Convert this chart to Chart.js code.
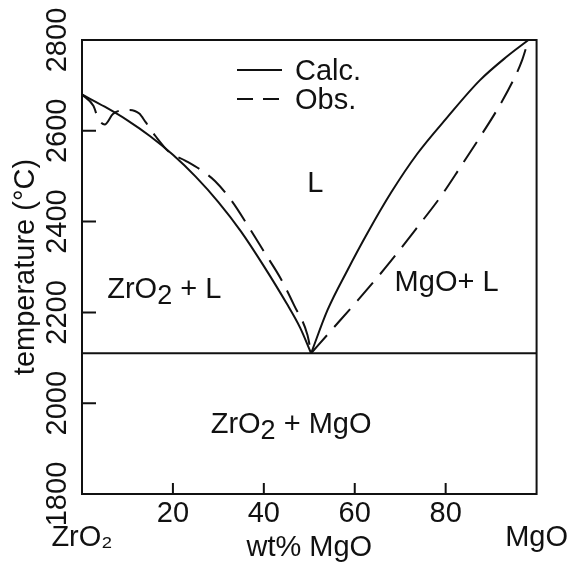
<!DOCTYPE html>
<html><head><meta charset="utf-8">
<style>html,body{margin:0;padding:0;background:#fff;} #c{display:block;}</style>
<script src="https://cdn.jsdelivr.net/npm/chart.js@4.4.1/dist/chart.umd.min.js"></script>
</head><body>
<canvas id="c" width="576" height="569"></canvas>
<script>
// ---------- data ----------
const calcLeftX  = [0, 5, 10, 15, 20, 25, 30, 35, 40, 45, 48, 50.4];
const calcLeftT  = [2680, 2653, 2623, 2588, 2547, 2499, 2443, 2378, 2302, 2220, 2166, 2110];
const calcRightX = [50.4, 54, 58.4, 62.8, 68, 73.8, 80.3, 87.5, 93.4, 98.2];
const calcRightT = [2110, 2205, 2293, 2375, 2464, 2550, 2629, 2711, 2763, 2800];
const obsLeftX   = [0, 2.5, 3.6, 5.0, 6.8, 8.6, 10.4, 12.6, 14, 16.2, 19.1, 22.8, 26.4, 29.3, 32.9, 36.5, 40.1, 43.8, 46.7, 49.6, 50.4];
const obsLeftT   = [2680, 2655, 2626, 2614, 2637, 2645, 2646, 2638, 2619, 2588, 2554, 2534, 2512, 2489, 2446, 2391, 2333, 2273, 2215, 2150, 2110];
const obsRightX  = [50.4, 54.8, 60.6, 66.8, 73.8, 78.9, 83.3, 87.6, 91.3, 94.9, 96.8, 98.2];
const obsRightT  = [2110, 2160, 2226, 2299, 2388, 2455, 2521, 2587, 2646, 2712, 2755, 2800];
const eutecticT  = 2110;
const xRange = [0, 100];
const yRange = [1800, 2800];
const xTicks = [0, 20, 40, 60, 80, 100];
const xTickLabels = [['', 'ZrO₂'], '20', '40', '60', '80', ['', 'MgO']];
const yTicks = [1800, 2000, 2200, 2400, 2600, 2800];
const yTickLabels = ['1800', '2000', '2200', '2400', '2600', '2800'];
const seriesNames = ['Calc.', 'Obs.'];
const xTitle = 'wt% MgO';
const yTitle = 'temperature (°C)';
const regionLabels = [
  {text: 'L', x: 51.3, y: 2489},
  {text: 'ZrO₂ + L', x: 18.1, y: 2254},
  {text: 'MgO+ L', x: 80.2, y: 2269},
  {text: 'ZrO₂ + MgO', x: 46.0, y: 1958}
];

// ---------- styles ----------
const FAMILY = '"Liberation Sans", Arial, sans-serif';
const FS = 29;
const BLACK = '#111';
const OBS_DASH = [24, 11];

const pts = (xs, ys) => xs.map((x, i) => ({x, y: ys[i]}));

// measure widest y label to center rotated labels at x≈58
const mc = document.createElement('canvas').getContext('2d');
mc.font = `normal ${FS}px ${FAMILY}`;
const widest = Math.max(...yTickLabels.map(t => mc.measureText(t).width));
const yPad = 82 - 58 - widest / 2;

function drawRich(ctx, text, cx, cy, size) {
  const segs = [];
  for (const ch of text) {
    const sub = ch === '₂';
    const c = sub ? '2' : ch;
    if (segs.length && segs[segs.length - 1].sub === sub) segs[segs.length - 1].t += c;
    else segs.push({t: c, sub});
  }
  const fN = `${size}px ${FAMILY}`, fS = `${Math.round(size * 0.92)}px ${FAMILY}`;
  let total = 0;
  segs.forEach(s => { ctx.font = s.sub ? fS : fN; s.w = ctx.measureText(s.t).width; total += s.w; });
  let x = cx - total / 2;
  const base = cy + size * 0.716 / 2;
  ctx.textAlign = 'left'; ctx.textBaseline = 'alphabetic';
  segs.forEach(s => { ctx.font = s.sub ? fS : fN; ctx.fillText(s.t, x, base + (s.sub ? 6 : 0)); x += s.w; });
}

const decor = {
  id: 'decor',
  beforeDraw(chart) {
    const {ctx} = chart;
    ctx.save(); ctx.fillStyle = '#fff'; ctx.fillRect(0, 0, chart.width, chart.height); ctx.restore();
  },
  afterDatasetsDraw(chart) {
    const {ctx, chartArea: a, scales: {x, y}} = chart;
    ctx.save();
    ctx.strokeStyle = BLACK; ctx.fillStyle = BLACK; ctx.lineWidth = 2;
    // frame
    ctx.strokeRect(a.left, a.top, a.right - a.left, a.bottom - a.top);
    // inward ticks
    ctx.beginPath();
    y.ticks.forEach(t => {
      if (t.value <= y.min || t.value >= y.max) return;
      const py = y.getPixelForValue(t.value);
      ctx.moveTo(a.left, py); ctx.lineTo(a.left + 14, py);
    });
    x.ticks.forEach(t => {
      if (t.value <= x.min || t.value >= x.max) return;
      const px = x.getPixelForValue(t.value);
      ctx.moveTo(px, a.bottom); ctx.lineTo(px, a.bottom - 11);
    });
    ctx.stroke();
    // region labels
    regionLabels.forEach(l => drawRich(ctx, l.text, x.getPixelForValue(l.x), y.getPixelForValue(l.y), FS));
    // legend
    const seen = [];
    chart.data.datasets.forEach(ds => {
      if (!seriesNames.includes(ds.label) || seen.includes(ds.label)) return;
      seen.push(ds.label);
      const row = seen.length - 1;
      const ly = 70 + row * 29;
      ctx.beginPath();
      ctx.setLineDash(ds.borderDash && ds.borderDash.length ? [16, 10] : []);
      ctx.lineWidth = 2;
      ctx.moveTo(237, ly); ctx.lineTo(282, ly); ctx.stroke();
      ctx.setLineDash([]);
      ctx.font = `${FS}px ${FAMILY}`;
      ctx.textAlign = 'left'; ctx.textBaseline = 'alphabetic';
      ctx.fillText(ds.label, 295, ly + FS * 0.716 / 2);
    });
    ctx.restore();
  }
};

const lineDs = (label, data, dash) => ({
  label, data, showLine: true, pointRadius: 0, borderColor: BLACK, borderWidth: 2,
  borderDash: dash, cubicInterpolationMode: 'monotone', fill: false, clip: false
});

new Chart(document.getElementById('c'), {
  type: 'scatter',
  data: {
    datasets: [
      lineDs('Calc.', pts(calcLeftX, calcLeftT), []),
      lineDs('Calc.', pts(calcRightX, calcRightT), []),
      lineDs('Obs.', pts(obsLeftX, obsLeftT), OBS_DASH),
      lineDs('Obs.', pts(obsRightX, obsRightT), OBS_DASH),
      lineDs('eutectic', [{x: xRange[0], y: eutecticT}, {x: xRange[1], y: eutecticT}], [])
    ]
  },
  options: {
    responsive: false,
    animation: false,
    devicePixelRatio: 1,
    layout: {padding: {top: 40, right: 36, left: 0, bottom: 0}},
    plugins: {legend: {display: false}, tooltip: {enabled: false}},
    scales: {
      x: {
        type: 'linear', min: xRange[0], max: xRange[1],
        afterBuildTicks: s => { s.ticks = xTicks.map(v => ({value: v})); },
        ticks: {
          autoSkip: false, maxRotation: 0, minRotation: 0, padding: 8, color: BLACK,
          font: {family: FAMILY, size: FS, lineHeight: '24px'},
          callback: (v) => { const i = xTicks.indexOf(v); return i >= 0 ? xTickLabels[i] : ''; }
        },
        grid: {display: false, drawTicks: false},
        border: {display: false},
        title: {display: true, text: xTitle, color: BLACK, font: {family: FAMILY, size: FS}, padding: {top: 0, bottom: 4}},
        afterFit: s => { s.height = 75; }
      },
      y: {
        type: 'linear', min: yRange[0], max: yRange[1],
        afterBuildTicks: s => { s.ticks = yTicks.map(v => ({value: v})); },
        ticks: {
          autoSkip: false, minRotation: 90, maxRotation: 90, crossAlign: 'center', padding: yPad, color: BLACK,
          font: {family: FAMILY, size: FS},
          callback: (v) => { const i = yTicks.indexOf(v); return i >= 0 ? yTickLabels[i] : ''; }
        },
        grid: {display: false, drawTicks: false},
        border: {display: false},
        title: {display: true, text: yTitle, color: BLACK, font: {family: FAMILY, size: FS}, padding: {top: 9, bottom: 0}},
        afterFit: s => { s.width = 82; }
      }
    }
  },
  plugins: [decor]
});
</script>
</body></html>
